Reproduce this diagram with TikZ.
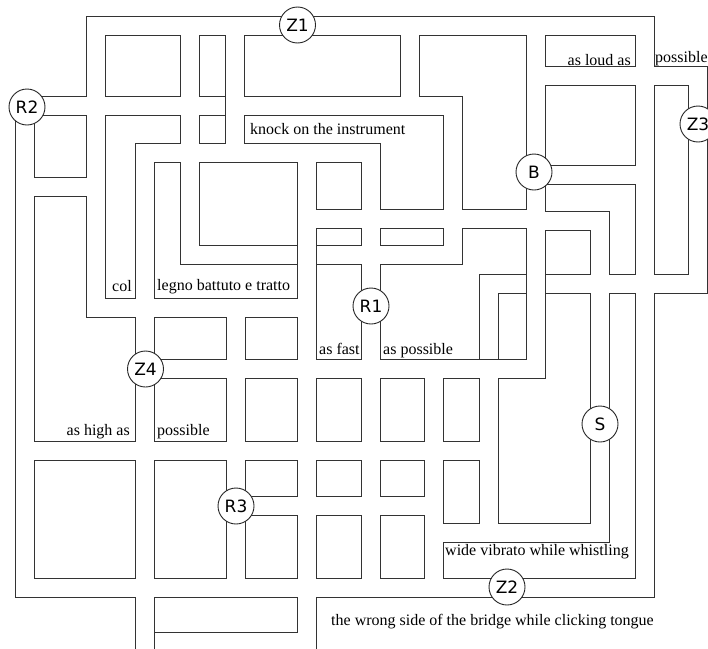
\documentclass[tikz,border=0pt]{standalone}
\usepackage{fontspec}
\setmainfont{Liberation Serif}
\newfontfamily\lblfont{DejaVu Sans}
\newcommand{\mzpaths}[1]{%
  % outer ring: R2 corridor (left piece), left, bottom, right, top, V1, H308
  \draw[#1] (216,106) -- (25,106) -- (25,588) -- (644.5,588) -- (644.5,25.5) -- (96,25.5) -- (96,308) -- (306.5,308);
  \draw[#1] (25,187) -- (96,187);
  \draw[#1] (190,25.5) -- (190,255) -- (287.5,255);
  \draw[#1] (235,25.5) -- (235,152.5);
  \draw[#1] (235,106) -- (452.5,106) -- (452.5,255) -- (325.5,255);
  \draw[#1] (410,25.5) -- (410,106);
  \draw[#1] (306.5,152.5) -- (306.5,642) -- (164,642);
  \draw[#1] (306.5,219) -- (535.5,219);
  \draw[#1] (145,660) -- (145,152.5) -- (371,152.5) -- (371,588);
  \draw[#1] (145.5,368.5) -- (535.5,368.5) -- (535.5,25.5);
  \draw[#1] (25,451) -- (488.5,451);
  \draw[#1] (236,506) -- (433.5,506);
  \draw[#1] (236,308) -- (236,588);
  \draw[#1] (433.5,368.5) -- (433.5,588);
  \draw[#1] (488.5,368.5) -- (488.5,532.5);
  \draw[#1] (516.5,284) -- (488.5,284) -- (488.5,349.5);
  \draw[#1] (535.5,75.5) -- (697.5,75.5) -- (697.5,284) -- (554.5,284);
  \draw[#1] (535.5,175) -- (644.5,175);
  \draw[#1] (535.5,221) -- (599.5,221) -- (599.5,532.5) -- (433.5,532.5);
}
\begin{document}
\begin{tikzpicture}[x=1pt,y=-1pt,
  wallstroke/.style={line width=20pt, draw=black!80, line cap=rect, line join=miter},
  floorstroke/.style={line width=18pt, draw=white, line cap=rect, line join=miter},
  station/.style={circle, draw=black!85, line width=0.9pt, fill=white, minimum size=36pt, inner sep=0pt, font=\lblfont\fontsize{17}{17}\selectfont},
  words/.style={font=\fontsize{16}{16}\selectfont, inner sep=0pt, text=black}]
\useasboundingbox (0,0) rectangle (708,648);
\fill[white] (0,0) rectangle (708,648);
\begin{scope}
  \clip (0,0) rectangle (708,648);
  \mzpaths{wallstroke}
  \mzpaths{floorstroke}
\end{scope}
% stations
\node[station] (z1) at (297.5,25) {Z1};
\node[station] (r2) at (27,107) {R2};
\node[station] (b) at (534,172) {B};
\node[station] (z3) at (698,124) {Z3};
\node[station] (r1) at (371,306) {R1};
\node[station] (z4) at (145.5,369) {Z4};
\node[station] (s) at (600,424) {S};
\node[station] (r3) at (236,506) {R3};
\node[station] (z2) at (507,587) {Z2};
% texts
\node[words, anchor=base west] (t1) at (250,134) {knock on the instrument};
\node[words, anchor=base east] (t2) at (631,65) {as loud as};
\node[words, anchor=base west] (t3) at (655,62) {possible};
\node[words, anchor=base west] (t4) at (112,291) {col};
\node[words, anchor=base west] (t5) at (157,290) {legno battuto e tratto};
\node[words, anchor=base west] (t6) at (319,354) {as fast};
\node[words, anchor=base west] (t7) at (383,354) {as possible};
\node[words, anchor=base east] (t8) at (130,435) {as high as};
\node[words, anchor=base west] (t9) at (157,435) {possible};
\node[words, anchor=base west] (t10) at (445,555) {wide vibrato while whistling};
\node[words, anchor=base west] (t11) at (331,625) {the wrong side of the bridge while clicking tongue};
\end{tikzpicture}
\end{document}
